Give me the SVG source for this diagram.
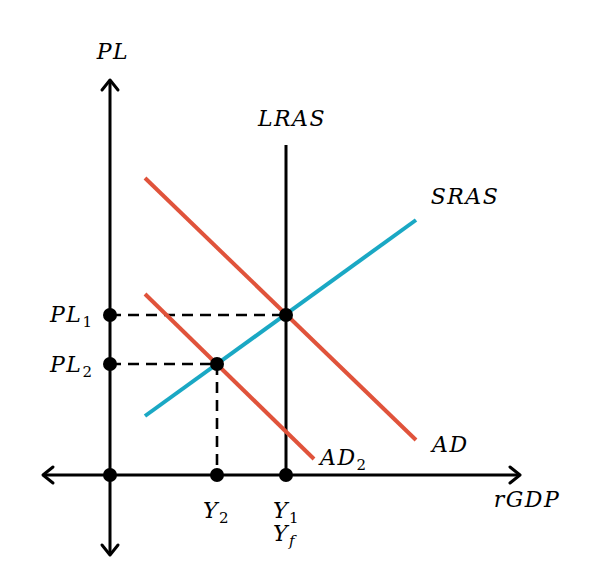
<svg xmlns="http://www.w3.org/2000/svg" width="600" height="580" viewBox="0 0 600 580">
<style>
.lbl{font-family:"DejaVu Serif",serif;font-style:italic;font-size:22px;letter-spacing:1.5px;fill:#000}
.sub{font-size:15px;font-style:normal;letter-spacing:0}
.subi{font-size:15px;letter-spacing:0}
.axis{stroke:#000;stroke-width:3;fill:none}
.head{stroke:#000;stroke-width:3;fill:none;stroke-linecap:round;stroke-linejoin:round}
.dash{stroke:#000;stroke-width:2.6;stroke-dasharray:11,7;fill:none}
.ad{stroke:#e0533b;stroke-width:4;fill:none}
.sras{stroke:#1aa8c4;stroke-width:4;fill:none}
.pt{fill:#000}
</style>
<rect width="600" height="580" fill="#fff"/>
<g id="connectors">
<line class="axis" x1="110" y1="80" x2="110" y2="555"/>
<polyline class="head" points="102,90 110,80 118,90"/>
<polyline class="head" points="102,545 110,555 118,545"/>
<line class="axis" x1="43" y1="475" x2="520" y2="475"/>
<polyline class="head" points="53,467 43,475 53,483"/>
<polyline class="head" points="510,467 520,475 510,483"/>
<line class="axis" x1="286" y1="145" x2="286" y2="475"/>
<line class="dash" x1="110" y1="315" x2="286" y2="315"/>
<line class="dash" x1="110" y1="364" x2="217" y2="364"/>
<line class="dash" x1="217" y1="364" x2="217" y2="475"/>
<line class="ad" x1="145" y1="178" x2="416" y2="440"/>
<line class="ad" x1="145" y1="294" x2="314" y2="459"/>
<line class="sras" x1="145" y1="416" x2="416" y2="220"/>
</g>
<g id="points">
<circle class="pt" cx="110" cy="315" r="7"/>
<circle class="pt" cx="286" cy="315" r="7"/>
<circle class="pt" cx="110" cy="364" r="7"/>
<circle class="pt" cx="217" cy="364" r="7"/>
<circle class="pt" cx="110" cy="475" r="7"/>
<circle class="pt" cx="217" cy="475" r="7"/>
<circle class="pt" cx="286" cy="475" r="7"/>
</g>
<g id="labels">
<text class="lbl" x="113" y="59" text-anchor="middle">PL</text>
<text class="lbl" x="292" y="126" text-anchor="middle">LRAS</text>
<text class="lbl" x="465" y="204" text-anchor="middle">SRAS</text>
<text class="lbl" x="432" y="452">AD</text>
<text class="lbl" x="320" y="465">AD<tspan class="sub" dy="5">2</tspan></text>
<text class="lbl" x="527" y="507" text-anchor="middle">rGDP</text>
<text class="lbl" x="50" y="322">PL<tspan class="sub" dy="5">1</tspan></text>
<text class="lbl" x="50" y="372">PL<tspan class="sub" dy="5">2</tspan></text>
<text class="lbl" x="203" y="518">Y<tspan class="sub" dy="5">2</tspan></text>
<text class="lbl" x="273" y="518">Y<tspan class="sub" dy="5">1</tspan></text>
<text class="lbl" x="273" y="541">Y<tspan class="subi" dy="5">f</tspan></text>
</g>
</svg>
